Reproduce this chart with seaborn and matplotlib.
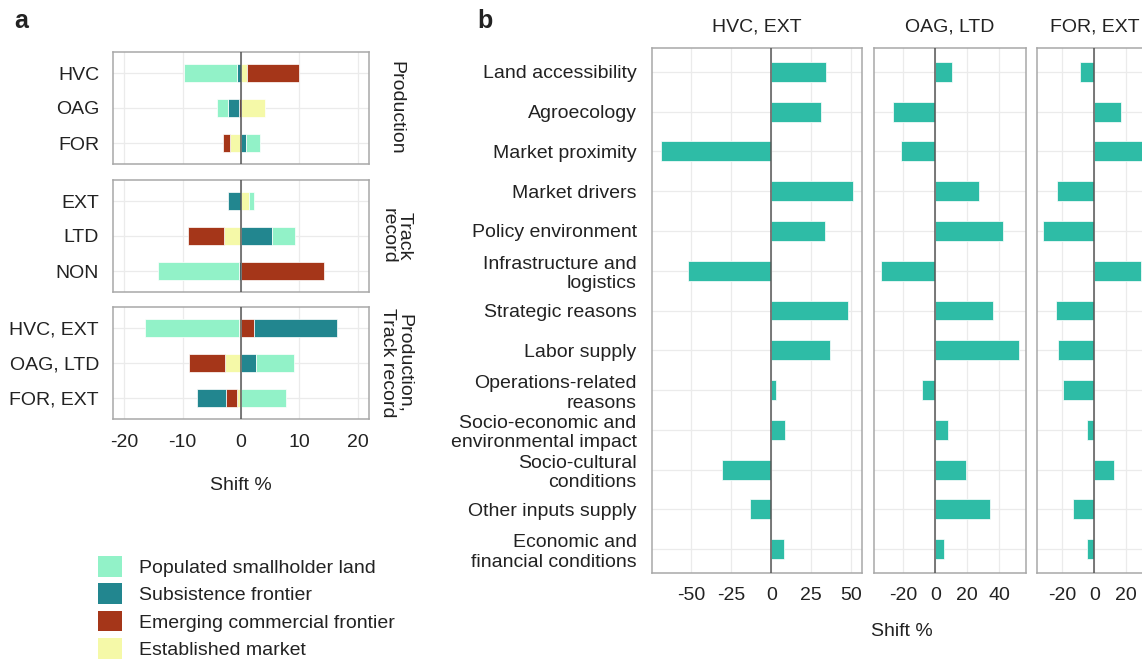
import numpy as np
import matplotlib
matplotlib.use("Agg")
import matplotlib.pyplot as plt
from matplotlib.patches import Patch
import seaborn as sns

# -----------------------------------------------------------------
# data, panel a (shift % by land type, stacked diverging bars)
# -----------------------------------------------------------------
facet_names = ["Production", "Track\nrecord", "Production,\nTrack record"]
facet_rows = [
    ["HVC", "OAG", "FOR"],
    ["EXT", "LTD", "NON"],
    ["HVC, EXT", "OAG, LTD", "FOR, EXT"],
]
land_types = ["Populated smallholder land", "Subsistence frontier",
              "Emerging commercial frontier", "Established market"]
land_colors = ["#92F2C8", "#22868F", "#A53619", "#F5F9A8"]

# one value per row, rows in the order of facet_rows flattened
populated = [-9.1, -1.9, 2.3, 1.0, 3.8, -13.8, -16.0, 6.5, 7.7]
subsistence = [-0.7, -1.9, 0.9, -2.2, 5.4, -0.4, 14.3, 2.6, -4.9]
emerging = [8.8, -0.4, -1.2, 0.0, -6.2, 14.3, 2.2, -6.3, -1.9]
established = [1.1, 4.2, -1.9, 1.3, -2.9, 0.0, -0.4, -2.7, -0.7]

# -----------------------------------------------------------------
# data, panel b (shift % by location factor)
# -----------------------------------------------------------------
factors = ["Land accessibility", "Agroecology", "Market proximity",
           "Market drivers", "Policy environment",
           "Infrastructure and\nlogistics", "Strategic reasons",
           "Labor supply", "Operations-related\nreasons",
           "Socio-economic and\nenvironmental impact",
           "Socio-cultural\nconditions", "Other inputs supply",
           "Economic and\nfinancial conditions"]
facet_b = ["HVC, EXT", "OAG, LTD", "FOR, EXT"]
shift_hvc_ext = [34.4, 31.3, -69.0, 50.8, 33.8, -52.3, 47.7, 36.5, 3.1, 8.3, -30.6, -13.3, 8.1]
shift_oag_ltd = [10.6, -26.3, -21.7, 27.5, 42.3, -34.0, 36.3, 52.1, -8.3, 7.7, 19.4, 34.4, 5.2]
shift_for_ext = [-8.8, 16.5, 33.5, -23.3, -32.3, 29.2, -23.8, -22.5, -19.4, -4.2, 12.5, -13.3, -4.2]
bar_color_b = "#2EBCA6"

# -----------------------------------------------------------------
# style
# -----------------------------------------------------------------
sns.set_theme(style="whitegrid")
plt.rcParams["font.family"] = ["Liberation Sans", "DejaVu Sans"]
plt.rcParams["axes.unicode_minus"] = False
plt.rcParams["text.color"] = "#222222"

W, H = 1142, 661
fig = plt.figure(figsize=(W / 100, H / 100), dpi=100)


def box(x0, y0, x1, y1):
    # pixel box (top-left origin) -> figure fraction rect
    return [x0 / W, 1 - y1 / H, (x1 - x0) / W, (y1 - y0) / H]


def style_axes(ax, fs=14):
    ax.set_axisbelow(True)
    ax.xaxis.grid(True, color="#EBEBEB", lw=0.9)
    ax.yaxis.grid(True, color="#EBEBEB", lw=0.9)
    for s in ax.spines.values():
        s.set_visible(True)
        s.set_color("#A8A8A8")
        s.set_linewidth(1.1)
    ax.tick_params(length=0, labelsize=fs, colors="#222222")
    ax.axvline(0, color="#555555", lw=1.1, zorder=4)
    ax.set_xlabel("")
    ax.set_ylabel("")


# -----------------------------------------------------------------
# panel a
# -----------------------------------------------------------------
stack_order = [established, emerging, subsistence, populated]
stack_colors = [land_colors[3], land_colors[2], land_colors[1], land_colors[0]]
a_boxes = [(113, 52, 369, 164), (113, 180, 369, 292), (113, 307, 369, 419)]

for i, (rows, name) in enumerate(zip(facet_rows, facet_names)):
    ax = fig.add_axes(box(*a_boxes[i]))
    idx = slice(3 * i, 3 * i + 3)
    pos_left = np.zeros(3)
    neg_left = np.zeros(3)
    ypos = np.arange(3)
    for vals, col in zip(stack_order, stack_colors):
        v = np.array(vals[idx])
        left = np.where(v >= 0, pos_left, neg_left)
        ax.barh(ypos, v, left=left, height=0.5, color=col,
                edgecolor="#FFFFFF", linewidth=0.5, zorder=2)
        pos_left += np.where(v >= 0, v, 0)
        neg_left += np.where(v < 0, v, 0)
    ax.set_yticks(ypos)
    ax.set_yticklabels(rows)
    ax.set_ylim(2.6, -0.6)
    ax.set_xlim(-21.95, 21.95)
    ax.set_xticks([-20, -10, 0, 10, 20])
    style_axes(ax)
    ax.tick_params(axis="y", pad=10)
    ax.tick_params(axis="x", pad=11)
    if i < 2:
        ax.tick_params(labelbottom=False)
    x0, y0, x1, y1 = a_boxes[i]
    fig.text((x1 + 27) / W, 1 - (y0 + y1) / 2 / H, name, rotation=-90,
             ha="center", va="center", fontsize=14, multialignment="center",
             linespacing=0.95)

fig.text(241 / W, 1 - 485 / H, "Shift %", ha="center", va="center", fontsize=14)

handles = [Patch(facecolor=c, edgecolor="none") for c in land_colors]
fig.legend(handles, land_types, loc="upper left",
           bbox_to_anchor=(98 / W, 1 - 556 / H), frameon=False,
           fontsize=14, handlelength=1.25, handleheight=1.25,
           handletextpad=0.85, labelspacing=0.34, borderpad=0,
           borderaxespad=0)

# -----------------------------------------------------------------
# panel b
# -----------------------------------------------------------------
b_series = [shift_hvc_ext, shift_oag_ltd, shift_for_ext]
b_boxes = [(652, 48, 862, 573), (874, 48, 1026, 573), (1037, 48, 1153, 573)]
b_xlims = [(-74.6, 56.7), (-38.3, 56.7), (-35.8, 36.8)]
b_ticks = [[-50, -25, 0, 25, 50], [-20, 0, 20, 40], [-20, 0, 20]]

for j, (vals, title) in enumerate(zip(b_series, facet_b)):
    ax = fig.add_axes(box(*b_boxes[j]))
    sns.barplot(x=vals, y=factors, ax=ax, color=bar_color_b, width=0.5,
                saturation=1, edgecolor="#FFFFFF", linewidth=0.5, zorder=2)
    ax.set_ylim(12.6, -0.6)
    ax.set_xlim(*b_xlims[j])
    ax.set_xticks(b_ticks[j])
    style_axes(ax)
    ax.tick_params(axis="x", pad=10)
    ax.tick_params(axis="y", pad=11)
    if j > 0:
        ax.tick_params(labelleft=False)
    ax.set_title(title, fontsize=14, pad=12, color="#222222")

fig.text(902 / W, 1 - 632 / H, "Shift %", ha="center", va="center", fontsize=14)

fig.text(14 / W, 1 - 28 / H, "a", fontsize=18, fontweight="bold", va="baseline")
fig.text(477 / W, 1 - 28 / H, "b", fontsize=18, fontweight="bold", va="baseline")

fig.savefig("out.png", dpi=100)
